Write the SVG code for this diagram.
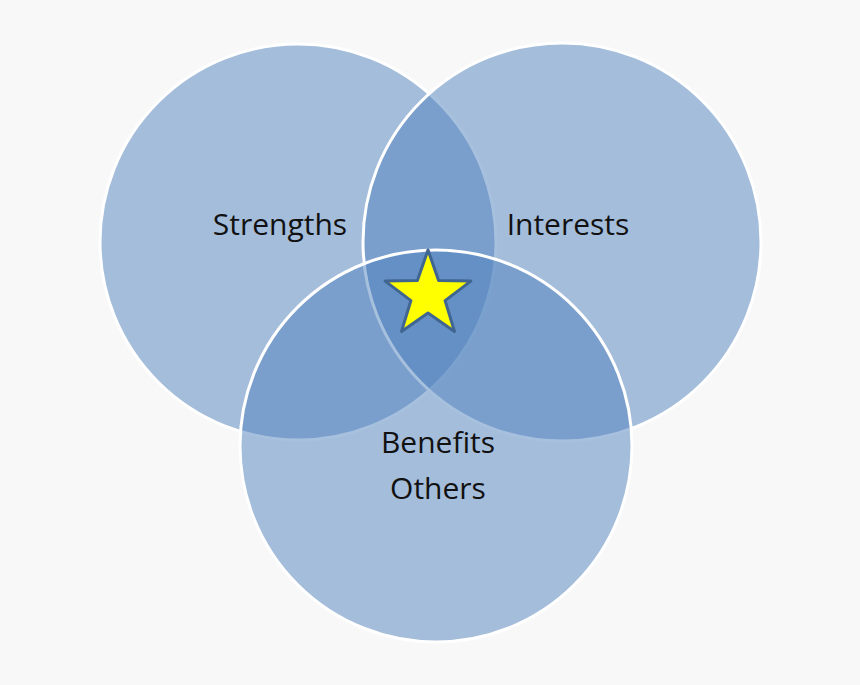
<svg xmlns="http://www.w3.org/2000/svg" width="860" height="685" viewBox="0 0 860 685">
<style>
.c{fill:#4f81bd;fill-opacity:0.5;stroke:#fff;stroke-width:3}
text{font-family:"Open Sans","Liberation Sans",sans-serif;font-size:30px;fill:#111;text-anchor:middle}
</style>
<rect width="860" height="685" fill="#f8f8f8"/>
<g id="strengths"><circle class="c" cx="298" cy="242" r="198"/></g>
<g id="interests"><circle class="c" cx="562" cy="242" r="199"/></g>
<g id="benefits"><circle class="c" cx="436" cy="446" r="196"/></g>
<g id="labels">
<text x="280" y="235">Strengths</text>
<text x="568" y="235">Interests</text>
<text x="438" y="453">Benefits</text>
<text x="438" y="499">Others</text>
</g>
<g id="star"><polygon points="428,250 438.6,280.4 470.8,281.1 445.1,300.6 454.5,331.4 428,313 401.5,331.4 410.9,300.6 385.2,281.1 417.4,280.4" fill="#ffff00" stroke="#3f6590" stroke-width="3" stroke-linejoin="round"/></g>
<g id="connectors"/>
</svg>
